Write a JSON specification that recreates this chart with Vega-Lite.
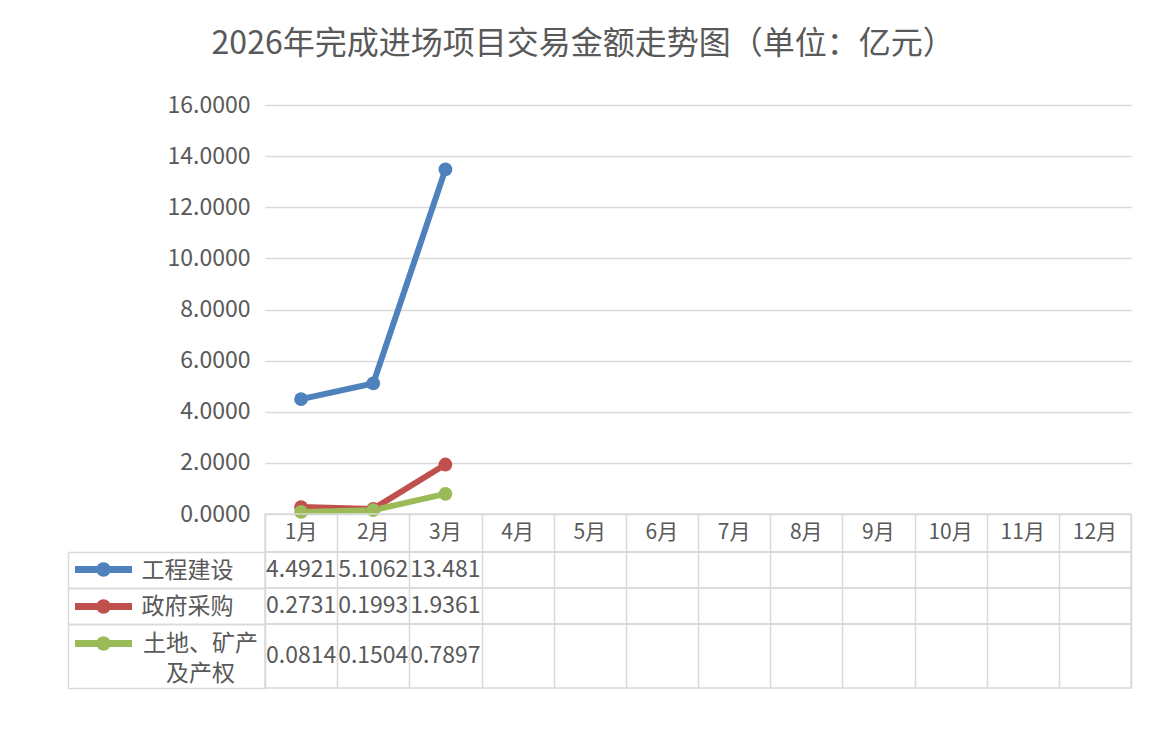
{
  "$schema": "https://vega.github.io/schema/vega-lite/v6.json",
  "padding": {"left": 66, "top": 28, "right": 20, "bottom": 20},
  "background": "white",
  "title": {"text": "2026年完成进场项目交易金额走势图（单位：亿元）", "font": "Noto Sans CJK SC", "fontSize": 32, "fontWeight": "normal", "color": "#595959", "anchor": "middle", "dx": -16, "offset": 33},
  "datasets": {
    "amounts": [
      {"series": "工程建设", "month": "1月", "value": 4.4921},
      {"series": "工程建设", "month": "2月", "value": 5.1062},
      {"series": "工程建设", "month": "3月", "value": 13.481},
      {"series": "政府采购", "month": "1月", "value": 0.2731},
      {"series": "政府采购", "month": "2月", "value": 0.1993},
      {"series": "政府采购", "month": "3月", "value": 1.9361},
      {"series": "土地、矿产及产权", "month": "1月", "value": 0.0814},
      {"series": "土地、矿产及产权", "month": "2月", "value": 0.1504},
      {"series": "土地、矿产及产权", "month": "3月", "value": 0.7897}
    ],
    "months": [
      {"month": "1月"}, {"month": "2月"}, {"month": "3月"}, {"month": "4月"},
      {"month": "5月"}, {"month": "6月"}, {"month": "7月"}, {"month": "8月"},
      {"month": "9月"}, {"month": "10月"}, {"month": "11月"}, {"month": "12月"}
    ]
  },
  "spacing": 0,
  "bounds": "flush",
  "resolve": {"legend": {"color": "independent"}, "scale": {"color": "independent"}},
  "config": {
    "font": "Noto Sans CJK SC",
    "view": {"stroke": "#d9d9d9", "strokeWidth": 1.5},
    "axis": {"labelFont": "Noto Sans CJK SC", "labelColor": "#595959", "title": null}
  },
  "vconcat": [
    {
      "width": 866,
      "height": 409,
      "view": {"stroke": null},
      "data": {"name": "amounts"},
      "encoding": {
        "x": {"field": "month", "type": "ordinal", "scale": {"type": "band", "domain": ["1月","2月","3月","4月","5月","6月","7月","8月","9月","10月","11月","12月"], "paddingInner": 0, "paddingOuter": 0}, "axis": null},
        "y": {"field": "value", "type": "quantitative", "scale": {"domain": [0, 16], "nice": false}, "axis": {"values": [0, 2, 4, 6, 8, 10, 12, 14, 16], "format": ".4f", "grid": true, "gridColor": "#d9d9d9", "gridWidth": 1.5, "domain": false, "ticks": false, "labelPadding": 15, "labelFontSize": 23}},
        "color": {"field": "series", "type": "nominal", "scale": {"domain": ["工程建设", "政府采购", "土地、矿产及产权"], "range": ["#4F81BD", "#C0504D", "#9BBB59"]}, "legend": {"orient": "none", "legendX": -180, "legendY": 446, "title": null, "labelExpr": "''", "labelFontSize": 1, "symbolType": "M-1.9,0H1.9M0.25,0A0.25,0.25 0 1,1 -0.25,0A0.25,0.25 0 1,1 0.25,0", "symbolSize": 900, "symbolStrokeWidth": 7, "symbolOpacity": 1, "rowPadding": -1.5, "padding": 0}}
      },
      "layer": [
        {"mark": {"type": "line", "strokeWidth": 6}},
        {"mark": {"type": "point", "filled": true, "size": 190, "opacity": 1}}
      ]
    },
    {
      "width": 866,
      "height": 38,
      "data": {"name": "months"},
      "mark": {"type": "text", "fontSize": 21, "color": "#595959"},
      "encoding": {
        "x": {"field": "month", "type": "ordinal", "scale": {"type": "band", "domain": ["1月","2月","3月","4月","5月","6月","7月","8月","9月","10月","11月","12月"], "paddingInner": 0, "paddingOuter": 0}, "axis": {"labels": false, "ticks": false, "domain": false, "grid": true, "tickBand": "extent", "gridColor": "#d9d9d9", "gridWidth": 1.5}},
        "text": {"field": "month"}
      }
    },
    {
      "width": 866,
      "height": 36,
      "data": {"name": "amounts"},
      "transform": [{"filter": "datum.series === '工程建设'"}],
      "mark": {"type": "text", "fontSize": 23, "color": "#595959"},
      "encoding": {
        "x": {"field": "month", "type": "ordinal", "scale": {"type": "band", "domain": ["1月","2月","3月","4月","5月","6月","7月","8月","9月","10月","11月","12月"], "paddingInner": 0, "paddingOuter": 0}, "axis": {"labels": false, "ticks": false, "domain": false, "grid": true, "tickBand": "extent", "gridColor": "#d9d9d9", "gridWidth": 1.5}},
        "y": {"field": "series", "type": "nominal", "scale": {"type": "band", "paddingInner": 0, "paddingOuter": 0}, "axis": {"offset": 197, "domain": true, "domainColor": "#d9d9d9", "domainWidth": 1.5, "ticks": true, "tickSize": -197, "tickBand": "extent", "tickColor": "#d9d9d9", "tickWidth": 1.5, "labelAlign": "left", "labelPadding": 124, "labelFontSize": 23}},
        "text": {"field": "value", "type": "quantitative", "format": ".5"}
      }
    },
    {
      "width": 866,
      "height": 36,
      "data": {"name": "amounts"},
      "transform": [{"filter": "datum.series === '政府采购'"}],
      "mark": {"type": "text", "fontSize": 23, "color": "#595959"},
      "encoding": {
        "x": {"field": "month", "type": "ordinal", "scale": {"type": "band", "domain": ["1月","2月","3月","4月","5月","6月","7月","8月","9月","10月","11月","12月"], "paddingInner": 0, "paddingOuter": 0}, "axis": {"labels": false, "ticks": false, "domain": false, "grid": true, "tickBand": "extent", "gridColor": "#d9d9d9", "gridWidth": 1.5}},
        "y": {"field": "series", "type": "nominal", "scale": {"type": "band", "paddingInner": 0, "paddingOuter": 0}, "axis": {"offset": 197, "domain": true, "domainColor": "#d9d9d9", "domainWidth": 1.5, "ticks": true, "tickSize": -197, "tickBand": "extent", "tickColor": "#d9d9d9", "tickWidth": 1.5, "labelAlign": "left", "labelPadding": 124, "labelFontSize": 23}},
        "text": {"field": "value", "type": "quantitative", "format": ".5"}
      }
    },
    {
      "width": 866,
      "height": 64,
      "data": {"name": "amounts"},
      "transform": [{"filter": "datum.series === '土地、矿产及产权'"}],
      "mark": {"type": "text", "fontSize": 23, "color": "#595959"},
      "encoding": {
        "x": {"field": "month", "type": "ordinal", "scale": {"type": "band", "domain": ["1月","2月","3月","4月","5月","6月","7月","8月","9月","10月","11月","12月"], "paddingInner": 0, "paddingOuter": 0}, "axis": {"labels": false, "ticks": false, "domain": false, "grid": true, "tickBand": "extent", "gridColor": "#d9d9d9", "gridWidth": 1.5}},
        "y": {"field": "series", "type": "nominal", "scale": {"type": "band", "paddingInner": 0, "paddingOuter": 0}, "axis": {"offset": 197, "domain": true, "domainColor": "#d9d9d9", "domainWidth": 1.5, "ticks": true, "tickSize": -197, "tickBand": "extent", "tickColor": "#d9d9d9", "tickWidth": 1.5, "labelAlign": "center", "labelPadding": 65, "labelOffset": -13, "labelFontSize": 23, "labelLineHeight": 30, "labelExpr": "[substring(datum.label, 0, 5), substring(datum.label, 5)]"}},
        "text": {"field": "value", "type": "quantitative", "format": ".5"}
      }
    }
  ]
}
